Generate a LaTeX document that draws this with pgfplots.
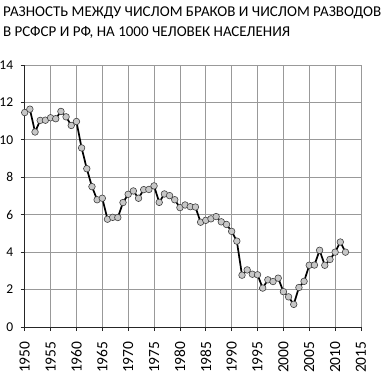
\documentclass[border=0pt]{standalone}
\usepackage{pgfplots}
\pgfplotsset{compat=1.18}
\usepackage{fontspec}
\setmainfont{Carlito}
\begin{document}
\begin{tikzpicture}[x=1pt,y=1pt]
\useasboundingbox (-24.7,-64) rectangle (360.3,327);
\begin{axis}[
  at={(0,0)}, anchor=south west,
  width=336.3pt, height=262pt, scale only axis,
  xmin=1950, xmax=2015, ymin=0, ymax=14,
  xtick={1950,1955,...,2015}, ytick={0,2,...,14},
  grid=major, grid style={black!40, line width=0.8pt},
  axis lines*=left, axis line style={black!85, line width=1pt},
  tick align=outside, major tick length=4pt,
  tick style={black!85, line width=0.8pt},
  /pgf/number format/assume math mode=true,
  /pgf/number format/1000 sep={},
  xticklabel shift=7pt, yticklabel shift=4pt,
  x tick label style={rotate=90, anchor=east, font=\fontsize{15.5}{16}\selectfont},
  y tick label style={font=\fontsize{13.5}{14}\selectfont},
  clip=false,
]
\addplot[black, line width=1.7pt, mark=*, mark size=3.3pt,
  mark options={fill=black!22, draw=black!75, line width=0.6pt}]
coordinates {
(1950,11.46)(1951,11.64)(1952,10.42)(1953,11.04)(1954,11.05)(1955,11.18)
(1956,11.13)(1957,11.52)(1958,11.23)(1959,10.77)(1960,10.98)(1961,9.57)
(1962,8.46)(1963,7.5)(1964,6.8)(1965,6.88)(1966,5.76)(1967,5.86)
(1968,5.85)(1969,6.65)(1970,7.09)(1971,7.27)(1972,6.88)(1973,7.34)
(1974,7.35)(1975,7.54)(1976,6.66)(1977,7.11)(1978,7.02)(1979,6.8)
(1980,6.38)(1981,6.52)(1982,6.43)(1983,6.41)(1984,5.6)(1985,5.7)
(1986,5.78)(1987,5.9)(1988,5.62)(1989,5.48)(1990,5.11)(1991,4.59)
(1992,2.77)(1993,3.05)(1994,2.82)(1995,2.79)(1996,2.08)(1997,2.52)
(1998,2.43)(1999,2.61)(2000,1.89)(2001,1.61)(2002,1.21)(2003,2.11)
(2004,2.44)(2005,3.3)(2006,3.31)(2007,4.1)(2008,3.3)(2009,3.61)
(2010,4.0)(2011,4.54)(2012,4.0)
};
\end{axis}
\node[anchor=north west, align=left, inner sep=0pt,
  font=\fontsize{15}{19.4}\selectfont] at (-21.8,320)
  {РАЗНОСТЬ МЕЖДУ ЧИСЛОМ БРАКОВ И ЧИСЛОМ РАЗВОДОВ\\В РСФСР И РФ, НА 1000 ЧЕЛОВЕК НАСЕЛЕНИЯ};
\end{tikzpicture}
\end{document}
